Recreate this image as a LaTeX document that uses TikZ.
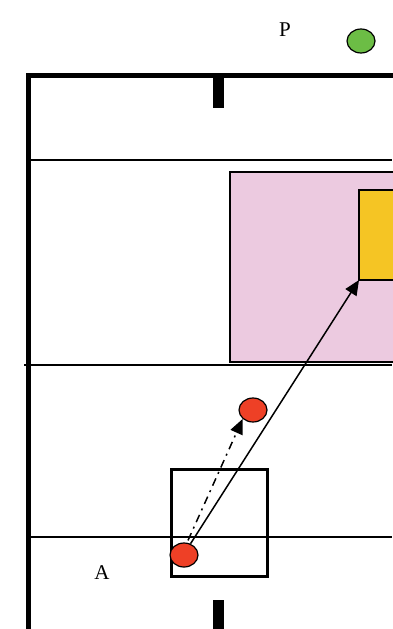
\documentclass[tikz,border=0pt]{standalone}
\usepackage{fontspec}
\setmainfont{Liberation Serif}
\usetikzlibrary{arrows.meta,shapes.geometric}
\definecolor{ballred}{RGB}{238,64,38}
\definecolor{ballgreen}{RGB}{108,189,69}
\definecolor{zonepink}{RGB}{236,202,224}
\definecolor{zoneyellow}{RGB}{245,197,36}
\tikzset{
  frame/.style={line width=5pt},
  field/.style={line width=2pt},
  ball/.style={ellipse,draw=black,line width=1.2pt,minimum width=28pt,minimum height=24pt,inner sep=0pt},
  lbl/.style={font=\fontsize{21}{24}\selectfont,inner sep=0pt},
  pass/.style={line width=1.5pt,-{Triangle[length=15pt,width=13pt]}},
  run/.style={line width=1.5pt,dash pattern=on 8pt off 5pt on 2pt off 5pt,-{Triangle[length=15pt,width=13pt]}}
}
\begin{document}
\begin{tikzpicture}[x=1pt,y=-1pt]
\useasboundingbox (0,0) rectangle (392,629);
% field lines
\draw[field] (28,160) -- (392,160);
\draw[field] (24,365) -- (392,365);
\draw[field] (28,537) -- (392,537);
% zones
\draw[line width=1.5pt,fill=zonepink] (230,172) rectangle (394,362);
\draw[line width=1.5pt,fill=zoneyellow] (359,190) rectangle (394,280);
\coordinate (ycorner) at (359,280);
% frame
\draw[frame] (28,629) -- (28,75) -- (394,75);
\fill (213,75) rectangle (224,108);
\fill (213,600) rectangle (224,629);
% small square
\draw[line width=3pt] (171,469) rectangle (267,576);
% balls
\node[ball,fill=ballgreen] (p) at (361,41) {};
\node[ball,fill=ballred] (r1) at (253,410) {};
\node[ball,fill=ballred] (r2) at (184,555) {};
\node[lbl] (pl) at (285,30) {P};
\node[lbl] (al) at (102,573) {A};
% arrows
\draw[pass] (r2.60) -- (ycorner);
\draw[run] (r2.north) ++(4,-2) coordinate (rs) (rs) -- (r1.south west);
\end{tikzpicture}
\end{document}
